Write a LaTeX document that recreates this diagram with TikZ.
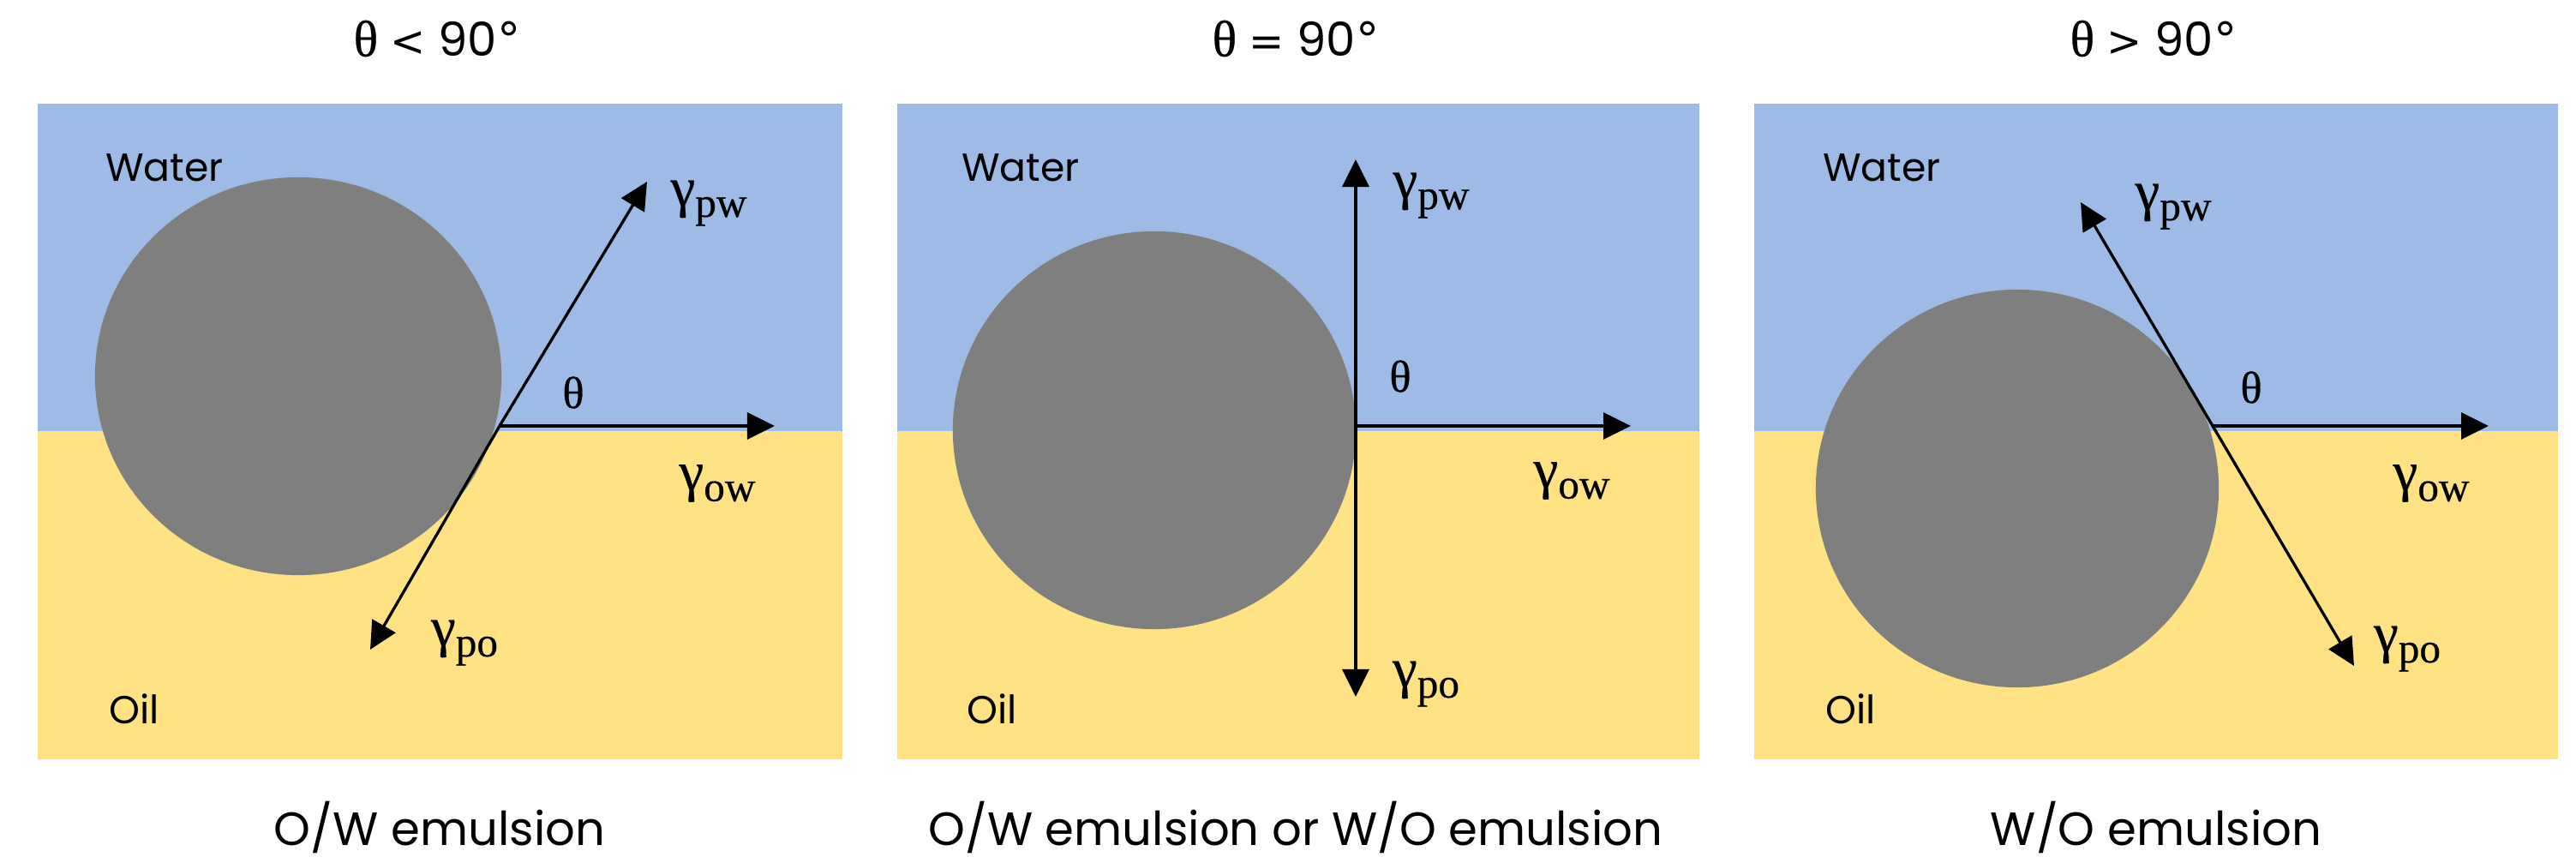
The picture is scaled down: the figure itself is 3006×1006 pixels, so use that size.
\documentclass[tikz,border=0pt]{standalone}
\usepackage{fontspec}
\setmainfont{Poppins}
\newfontfamily\gk[FakeBold=0.4]{Liberation Serif}
\newfontfamily\symf{DejaVu Sans}
\usetikzlibrary{arrows.meta}
\definecolor{waterc}{HTML}{9DBBE4}
\definecolor{oilc}{HTML}{FFE283}
\definecolor{dropc}{HTML}{7F7F7F}
\newcommand\gam[1]{{\gk\fontsize{18.5}{18.5}\selectfont γ}\raisebox{-3.6pt}{\gk\fontsize{14}{14}\selectfont #1}}
\newcommand\thet{{\gk\fontsize{15}{15}\selectfont θ}}
\newcommand\ttlline[1]{{\gk\fontsize{17}{17}\selectfont θ} {\symf\fontsize{14}{14}\selectfont #1} 90{\symf °}}
\begin{document}
\begin{tikzpicture}[x=0.01cm,y=-0.01cm,
  vec/.style={line width=0.95pt,-{Triangle[length=0.32cm,width=0.31cm]}},
  lbl/.style={inner sep=0pt,anchor=center},
  phase/.style={inner sep=0pt,font=\fontsize{13}{13}\selectfont},
  ttl/.style={inner sep=0pt,font=\fontsize{15.5}{15.5}\selectfont}]
\useasboundingbox (0,0) rectangle (3006,1006);
% panels
\foreach \L/\R in {44/983,1047/1983,2047/2985}{
  \fill[waterc] (\L,121) rectangle (\R,503);
  \fill[oilc] (\L,503) rectangle (\R,886);
}
% panel 1
\fill[dropc] (348,439) circle[x radius=2.37cm,y radius=2.32cm];
\coordinate (c1) at (583,497);
\coordinate (pw1) at (755,212);
\coordinate (ow1) at (904,497);
\coordinate (po1) at (432,758);
\draw[vec] (c1) -- (pw1);
\draw[vec] (c1) -- (ow1);
\draw[vec] (c1) -- (po1);
\node[lbl] (lpw1) at (827,237) {\gam{pw}};
\node[lbl] (low1) at (837,564) {\gam{ow}};
\node[lbl] (lpo1) at (542,750) {\gam{po}};
\node[lbl] (th1) at (669,458) {\thet};
\node[phase] (w1) at (192,196) {Water};
\node[phase] (o1) at (157,827) {Oil};
\node[ttl] (t1) at (510,45) {\ttlline{<}};
\node[ttl] (b1) at (513,965) {O/W emulsion};
% panel 2
\fill[dropc] (1347,502) circle[x radius=2.35cm,y radius=2.32cm];
\coordinate (c2) at (1582,497);
\coordinate (pw2) at (1582,186);
\coordinate (ow2) at (1903,497);
\coordinate (po2) at (1582,813);
\draw[vec] (c2) -- (pw2);
\draw[vec] (c2) -- (ow2);
\draw[vec] (c2) -- (po2);
\node[lbl] (lpw2) at (1670,228) {\gam{pw}};
\node[lbl] (low2) at (1834,561) {\gam{ow}};
\node[lbl] (lpo2) at (1664,798) {\gam{po}};
\node[lbl] (th2) at (1634,439) {\thet};
\node[phase] (w2) at (1191,196) {Water};
\node[phase] (o2) at (1158,827) {Oil};
\node[ttl] (t2) at (1512,45) {\ttlline{=}};
\node[ttl] (b2) at (1512,965) {O/W emulsion or W/O emulsion};
% panel 3
\fill[dropc] (2354,570) circle[x radius=2.35cm,y radius=2.32cm];
\coordinate (c3) at (2582,497);
\coordinate (pw3) at (2428,236);
\coordinate (ow3) at (2904,497);
\coordinate (po3) at (2747,777);
\draw[vec] (c3) -- (pw3);
\draw[vec] (c3) -- (ow3);
\draw[vec] (c3) -- (po3);
\node[lbl] (lpw3) at (2536,241) {\gam{pw}};
\node[lbl] (low3) at (2837,564) {\gam{ow}};
\node[lbl] (lpo3) at (2809,757) {\gam{po}};
\node[lbl] (th3) at (2627,452) {\thet};
\node[phase] (w3) at (2196,196) {Water};
\node[phase] (o3) at (2160,827) {Oil};
\node[ttl] (t3) at (2513,45) {\ttlline{>}};
\node[ttl] (b3) at (2516,965) {W/O emulsion};
\end{tikzpicture}
\end{document}
